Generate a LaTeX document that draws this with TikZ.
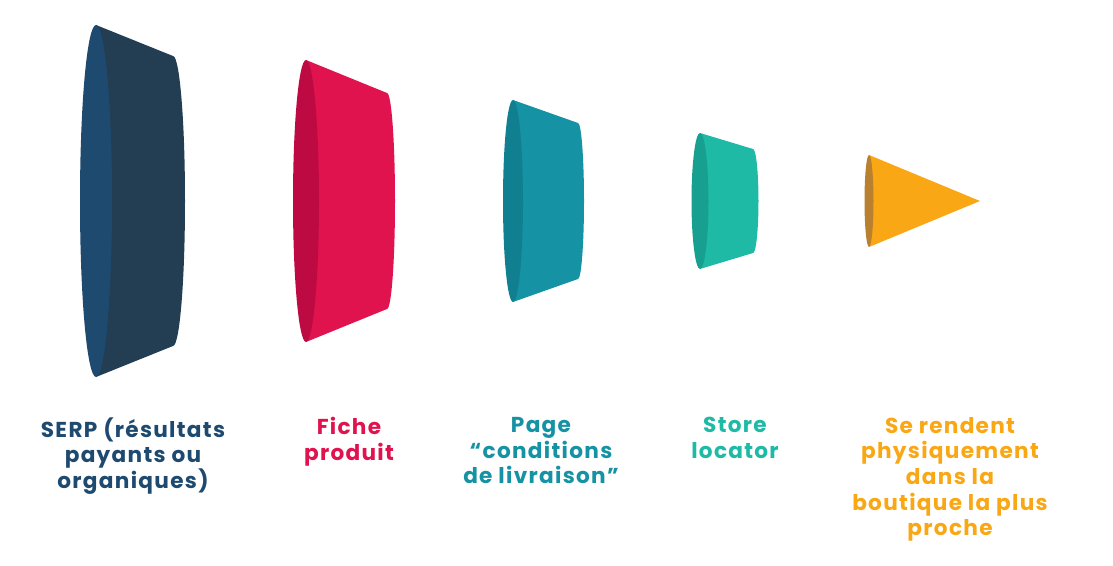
\documentclass[tikz,border=0pt]{standalone}
\usepackage{fontspec}
\setmainfont{Poppins}[LetterSpace=6]
\usepackage{tikz}
\definecolor{serpbody}{HTML}{233D53}
\definecolor{serpface}{HTML}{1F4A70}
\definecolor{fichebody}{HTML}{E0134F}
\definecolor{ficheface}{HTML}{BE0A42}
\definecolor{pagebody}{HTML}{1592A3}
\definecolor{pageface}{HTML}{108090}
\definecolor{storebody}{HTML}{1EBAA6}
\definecolor{storeface}{HTML}{17A08F}
\definecolor{shopbody}{HTML}{F9A714}
\definecolor{shopface}{HTML}{B98030}
\tikzset{
  steplabel/.style={anchor=north, align=center, inner sep=0pt, font=\bfseries\fontsize{12.3}{14.6}\selectfont}
}

\begin{document}
\begin{tikzpicture}[x=0.02cm, y=0.02cm]
  \useasboundingbox (0,0) rectangle (1113,565);
  % funnel stages: front x / ry / rx, back x / ry / rx, colours
  \foreach \fx/\fry/\frx/\bx/\bry/\brx/\body/\face in {
      96/176/16/173/145/12/serpbody/serpface,
      306/141/13/387/108/8/fichebody/ficheface,
      513/101/10/578/78/6/pagebody/pageface,
      700/68/8.5/753/52/5.5/storebody/storeface}{
    \fill[\body] (\fx,364+\fry) -- (\bx,364+\bry)
      arc[start angle=90, end angle=-90, x radius=\brx, y radius=\bry]
      -- (\fx,364-\fry) -- cycle;
    \fill[\face] (\fx,364) ellipse [x radius=\frx, y radius=\fry];
  }
  % last stage is a cone
  \fill[shopbody] (869,410) -- (980,364) -- (869,318) -- cycle;
  \fill[shopface] (869,364) ellipse [x radius=4.5, y radius=46];

  \node[steplabel, text=serpface] (serp) at (133,148) {SERP (résultats\\payants ou\\organiques)};
  \node[steplabel, text=fichebody] (fiche) at (349,148) {Fiche\\produit};
  \node[steplabel, text=pagebody] (page) at (541,148) {Page\\“conditions\\de livraison”};
  \node[steplabel, text=storebody] (store) at (735,148) {Store\\locator};
  \node[steplabel, text=shopbody] (shop) at (950,148) {Se rendent\\physiquement\\dans la\\boutique la plus\\proche};
\end{tikzpicture}
\end{document}
